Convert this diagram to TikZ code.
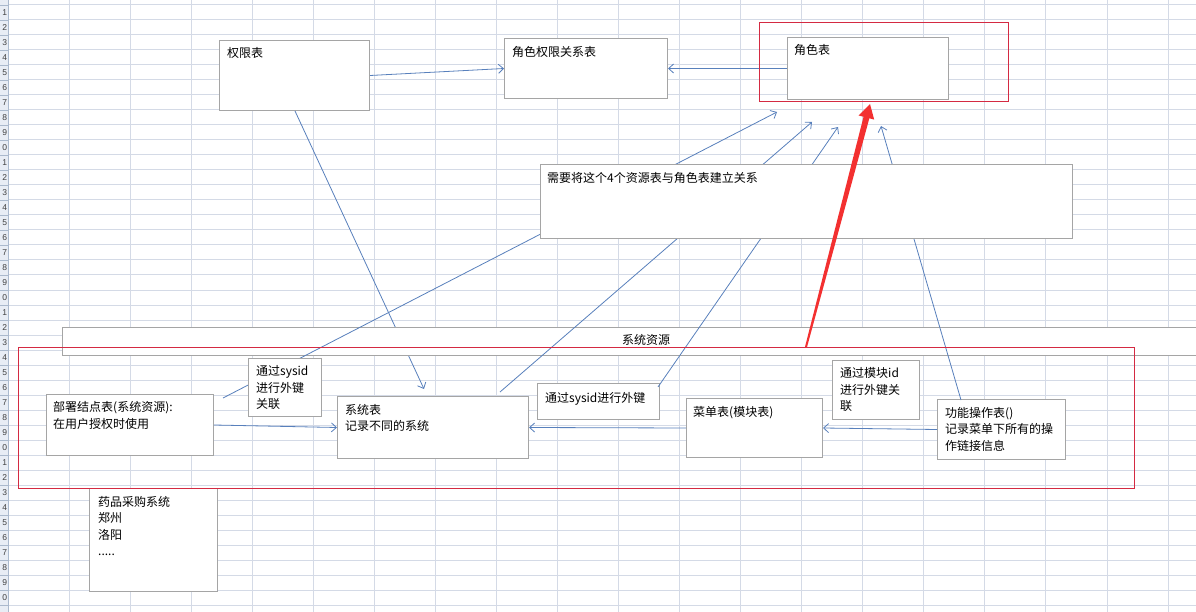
\documentclass[tikz,border=0pt]{standalone}
\usepackage{fontspec}
\setmainfont{Liberation Sans}
\newfontfamily\cjk{Noto Sans CJK SC}
\usetikzlibrary{arrows.meta,calc}
\definecolor{gridc}{RGB}{212,218,230}
\definecolor{hdrc}{RGB}{232,237,245}
\definecolor{hdrl}{RGB}{170,185,205}
\definecolor{boxc}{RGB}{165,165,165}
\definecolor{linec}{RGB}{88,128,188}
\definecolor{framec}{RGB}{212,42,66}
\definecolor{arrowred}{RGB}{243,48,48}
\tikzset{
  tbox/.style={draw=boxc, fill=white, line width=1pt, inner sep=0pt, anchor=north west},
  rframe/.style={draw=framec, line width=1pt, inner sep=0pt, anchor=north west},
  txt/.style={anchor=north west, inner sep=0pt, align=left, font=\cjk\fontsize{12}{16.5}\selectfont},
  conn/.style={draw=linec, line width=0.8pt, -{Straight Barb[length=5pt,width=9pt]}},
}
\begin{document}
\begin{tikzpicture}[x=1pt,y=-1pt]
\useasboundingbox (0,0) rectangle (1196,612);
\fill[white] (0,0) rectangle (1196,612);
% grid
\foreach \i in {0,...,18} \draw[gridc, line width=1pt] ({69+61.06*\i},0) -- ({69+61.06*\i},612);
\foreach \j in {0,...,40} \draw[gridc, line width=1pt] (8,{5+15*\j}) -- (1196,{5+15*\j});
% row header
\fill[hdrc] (0,0) rectangle (8,612);
\foreach \j in {0,...,40} \draw[hdrl, line width=0.6pt] (0,{5+15*\j}) -- (8,{5+15*\j});
\draw[hdrl, line width=1pt] (8,0) -- (8,612);
\foreach \j [evaluate=\j as \n using {int(\j-10*floor(\j/10))}] in {1,...,40}
  \node[anchor=east, inner sep=0pt, font=\fontsize{8.5}{8.5}\selectfont, text=black!75] (rn\j) at (7.3,{15*\j-2.5}) {\n};

% connector behind the resource bar
\node[tbox, minimum width=150pt, minimum height=70pt] (qx) at (219,40) {};
\node[tbox, minimum width=191pt, minimum height=62pt] (xt) at (337,396) {};
\draw[conn] ($(qx.south west)+(76,0)$) -- ($(xt.north west)+(87,-7)$);

% resource bar
\node[tbox, minimum width=1136pt, minimum height=28pt] (res) at (62,327) {};
\node[txt, anchor=center] (restxt) at (646,340) {系统资源};

% other boxes (positions)
\node[tbox, minimum width=163pt, minimum height=60pt] (jsqx) at (504,38) {};
\node[tbox, minimum width=161pt, minimum height=62pt] (js) at (787,37) {};
\node[tbox, minimum width=167pt, minimum height=61pt] (bs) at (46,394) {};
\node[tbox, minimum width=122pt, minimum height=36pt] (sid2) at (537,383) {};
\node[tbox, minimum width=136pt, minimum height=59pt] (cd) at (686,398) {};
\node[tbox, minimum width=128pt, minimum height=60pt] (gn) at (937,399) {};

% free arrow ends near the role table
\coordinate (t1) at (777,112);
\coordinate (t2) at (812,122);
\coordinate (t3) at (838,127);
\coordinate (t4) at (881,126);

% connectors
\draw[conn] (qx.east) -- (jsqx.west);
\draw[conn] (js.west) -- (jsqx.east);
\draw[conn] ($(bs.north east)+(9,4)$) -- (t1);
\draw[conn] ($(xt.north west)+(163,-4)$) -- (t2);
\draw[conn] ($(sid2.north east)+(-2,4)$) -- (t3);
\draw[conn] ($(gn.north west)+(24,1)$) -- (t4);
\draw[conn] (bs.east) -- (xt.west);
\draw[conn] (cd.west) -- (xt.east);
\draw[conn] (gn.west) -- (cd.east);

% boxes on top of connectors
\node[tbox, minimum width=532pt, minimum height=74pt] (need) at (540,164) {};
\node[tbox, minimum width=73pt, minimum height=58pt] (sid1) at (248,358) {};
\node[tbox, minimum width=87pt, minimum height=59pt] (mk) at (832,360) {};
\node[tbox, minimum width=128pt, minimum height=103pt] (yp) at (89,488) {};

% red frames
\node[rframe, minimum width=249pt, minimum height=79pt] (jsframe) at (759,22) {};
\node[rframe, minimum width=1116pt, minimum height=141pt] (bigframe) at (18,347) {};

% texts
\node[txt] (qxt) at (227,47) {权限表};
\node[txt] (jsqxt) at (512,46) {角色权限关系表};
\node[txt] (jst) at (794,44.5) {角色表};
\node[txt] (needt) at (547,172) {需要将这个4个资源表与角色表建立关系};
\node[txt] (bst) at (53,401.5) {部署结点表(系统资源):\\在用户授权时使用};
\node[txt] (sid1t) at (256,365.5) {通过sysid\\进行外键\\关联};
\node[txt] (xtt) at (345,404) {系统表\\记录不同的系统};
\node[txt] (sid2t) at (545,392) {通过sysid进行外键};
\node[txt] (cdt) at (693,406) {菜单表(模块表)};
\node[txt] (mkt) at (840,367.5) {通过模块id\\进行外键关\\联};
\node[txt] (gnt) at (945,407) {功能操作表()\\记录菜单下所有的操\\作链接信息};
\node[txt] (ypt) at (98,496) {药品采购系统\\郑州\\洛阳\\.....};

% red emphasis arrow
\coordinate (rs) at ($(bigframe.north west)+(788,0)$);
\coordinate (rt) at ($(jsframe.south west)+(111,2)$);
\coordinate (rb) at ($(rt)!14pt!(rs)$);
\fill[arrowred] ($(rs)!1pt!90:(rt)$) -- ($(rb)!3pt!-90:(rs)$) -- ($(rb)!8pt!-90:(rs)$) -- (rt)
  -- ($(rb)!8pt!90:(rs)$) -- ($(rb)!3pt!90:(rs)$) -- ($(rs)!1pt!-90:(rt)$) -- cycle;
\end{tikzpicture}
\end{document}
